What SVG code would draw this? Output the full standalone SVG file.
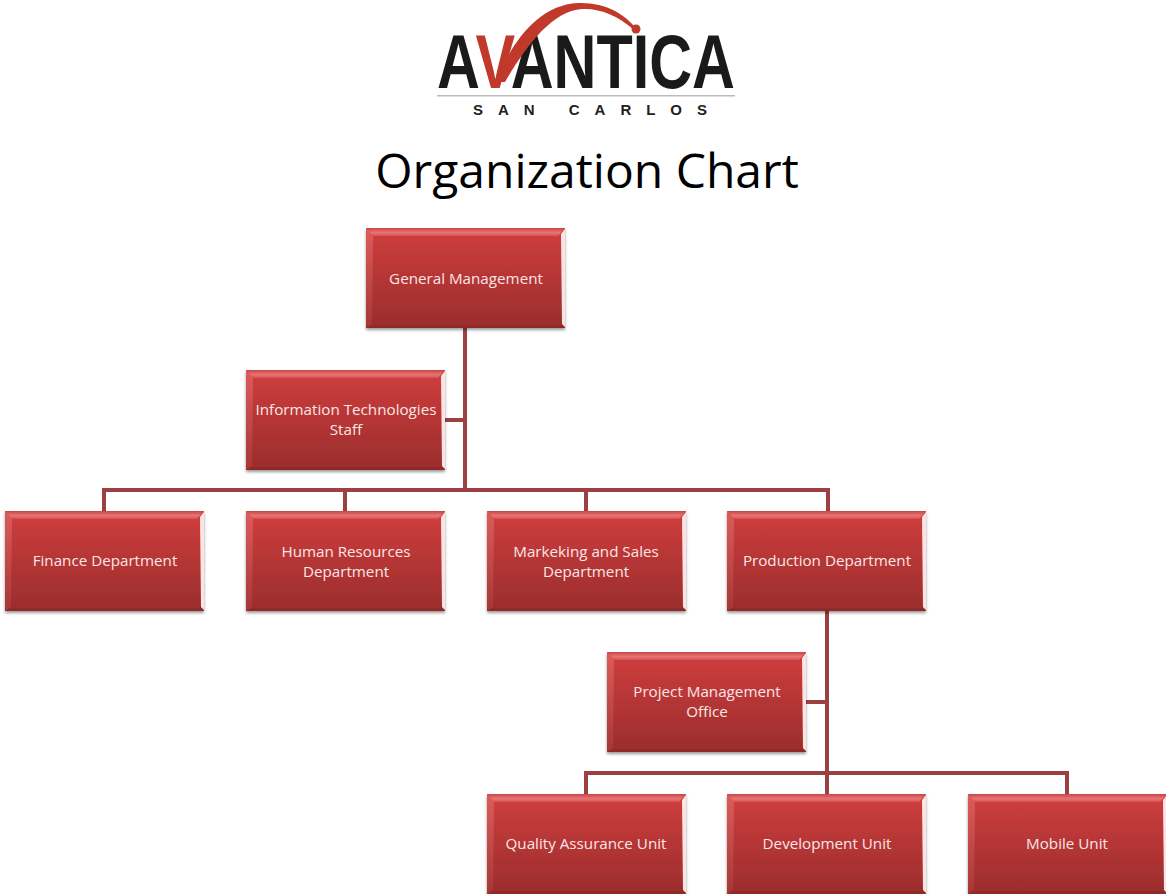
<svg xmlns="http://www.w3.org/2000/svg" xmlns:xlink="http://www.w3.org/1999/xlink" width="1166" height="894" viewBox="0 0 1166 894">
<style>
text{font-family:"Open Sans","Noto Sans","Liberation Sans",sans-serif}
.l{fill:#fbe6e6;font-size:15.2px;text-anchor:middle}
.c{fill:none;stroke:#9c4044;stroke-width:4}
</style>
<defs>
<linearGradient id="face" x1="0" y1="0" x2="0" y2="1"><stop offset="0" stop-color="#d03e3e"/><stop offset="1" stop-color="#9a2d2c"/></linearGradient>
<linearGradient id="top" x1="0" y1="0" x2="0" y2="1"><stop offset="0" stop-color="#c84646"/><stop offset=".6" stop-color="#e87575"/><stop offset="1" stop-color="#d65050"/></linearGradient>
<linearGradient id="left" x1="0" y1="0" x2="0" y2="1"><stop offset="0" stop-color="#dd5c5c"/><stop offset="1" stop-color="#a83636"/></linearGradient>
<filter id="sh" x="-5%" y="-5%" width="110%" height="115%"><feDropShadow dx="0" dy="2" stdDeviation="1.5" flood-color="#000" flood-opacity=".4"/></filter>
<filter id="soft" x="-2%" y="-2%" width="104%" height="104%"><feGaussianBlur stdDeviation=".7"/></filter>
<g id="box">
<rect width="199" height="100" fill="url(#face)" filter="url(#sh)"/>
<g filter="url(#soft)">
<polygon points="0,0 199,0 192,8 7,8" fill="url(#top)"/>
<polygon points="0,0 7,8 6,96 0,100" fill="url(#left)"/>
<polygon points="199,1 199,99 196,96 195,6" fill="#fde4e4"/>
<polygon points="0,100 199,100 195,97 6,97" fill="#8e2a2a"/>
</g>
</g>
</defs>
<rect width="1166" height="894" fill="#fff"/>
<g id="logo">
<text x="437" y="88" font-size="76" font-weight="700" textLength="298" lengthAdjust="spacingAndGlyphs" style="font-family:'Liberation Sans',sans-serif" fill="#1a1a1a">A<tspan fill="#c0392b">V</tspan>ANTICA</text>
<path d="M496 82 C510 46 536 5 578 3 C605 2 624 14 635 27 L633 29 C618 16 600 8 582 9 C552 11 526 46 505 82Z" fill="#c0392b"/>
<circle cx="636" cy="29" r="4.5" fill="#c0392b"/>
<rect x="437" y="95" width="298" height="1.5" fill="#bbb"/>
<text x="473" y="115" font-size="15" font-weight="700" textLength="234" style="font-family:'Liberation Sans',sans-serif" fill="#222">SAN CARLOS</text>
</g>
<text id="title" x="587" y="187.500" font-size="48" text-anchor="middle" fill="#000">Organization Chart</text>
<g id="connectors">
<path class="c" d="M465 328V490M445 420H465M104 511V490H828V511M345 490V511M586 490V511"/>
<path class="c" d="M827 610V794M805 702H827M586 794V773H1067V794"/>
</g>
<g id="general"><use xlink:href="#box" x="366" y="228"/><text class="l" x="466" y="283.500">General Management</text></g>
<g id="it"><use xlink:href="#box" x="246" y="370"/><text class="l" x="346" y="414.500">Information Technologies</text><text class="l" x="346" y="434.500">Staff</text></g>
<g id="finance"><use xlink:href="#box" x="5" y="511"/><text class="l" x="105" y="565.500">Finance Department</text></g>
<g id="hr"><use xlink:href="#box" x="246" y="511"/><text class="l" x="346" y="556.500">Human Resources</text><text class="l" x="346" y="576.500">Department</text></g>
<g id="marketing"><use xlink:href="#box" x="487" y="511"/><text class="l" x="586" y="556.500">Markeking and Sales</text><text class="l" x="586" y="576.500">Department</text></g>
<g id="production"><use xlink:href="#box" x="727" y="511"/><text class="l" x="827" y="565.500">Production Department</text></g>
<g id="pmo"><use xlink:href="#box" x="607" y="652"/><text class="l" x="707" y="696.500">Project Management</text><text class="l" x="707" y="716.500">Office</text></g>
<g id="qa"><use xlink:href="#box" x="487" y="794"/><text class="l" x="586" y="848.500">Quality Assurance Unit</text></g>
<g id="dev"><use xlink:href="#box" x="727" y="794"/><text class="l" x="827" y="848.500">Development Unit</text></g>
<g id="mobile"><use xlink:href="#box" x="968" y="794"/><text class="l" x="1067" y="848.500">Mobile Unit</text></g>
</svg>
